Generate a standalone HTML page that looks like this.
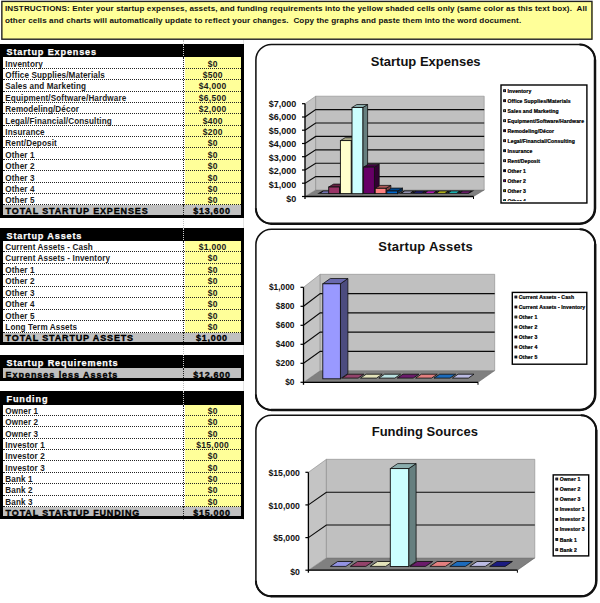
<!DOCTYPE html>
<html><head><meta charset="utf-8"><title>Startup Costs</title>
<style>
html,body{margin:0;padding:0;background:#fff;}
body{width:600px;height:603px;position:relative;overflow:hidden;font-family:"Liberation Sans",sans-serif;}
#ins{position:absolute;left:2px;top:1.5px;width:587.5px;height:36.5px;border:0;background:#ffff99;font-weight:bold;font-size:8.1px;line-height:12px;color:#111;padding:1px 0 0 3px;box-sizing:content-box;white-space:nowrap;letter-spacing:0.115px}
.hd{position:absolute;left:0;width:244px;background:#000;color:#fff;font-weight:bold;font-size:9.1px;}
.hd span{-webkit-text-stroke:0.25px #fff;position:absolute;left:6.5px;top:3.1px;line-height:10px;letter-spacing:0.85px;white-space:nowrap}
.bd{position:absolute;left:0;width:243.9px;border-left:3px solid #000;border-right:3px solid #000;box-sizing:border-box;background:#fff}
.bd .yl{position:absolute;left:181.5px;right:0;top:0;bottom:0;background:#ffff99}
.bd .cs{position:absolute;left:179.7px;top:0;bottom:0;border-left:1px dotted #222}
.rw{position:absolute;left:0;right:0;font-size:8.15px;font-weight:bold;color:#1a1a1a;}
.rw::after{content:"";position:absolute;left:0;right:0;bottom:0;border-bottom:1px dotted #222}
.rw .l{position:absolute;left:2.3px;top:1.3px;line-height:11px;letter-spacing:0.12px;white-space:nowrap}
.rw .v{position:absolute;left:181.5px;right:0;top:1.3px;text-align:center;line-height:11px;letter-spacing:0.3px;font-size:8.5px}
.tot{position:absolute;left:0;border-left:3px solid #000;border-right:3px solid #000;border-bottom:3px solid #000;box-sizing:content-box;width:237.9px;background:#c0c0c0;font-weight:bold;font-size:9px;color:#000}
.tot .l{position:absolute;left:2.6px;top:0.9px;-webkit-text-stroke:0.35px #000;line-height:11px;letter-spacing:0.85px;white-space:nowrap}
.tot .l.lc{letter-spacing:0.95px}
.tot .v{position:absolute;left:180px;right:0;top:0.9px;-webkit-text-stroke:0.3px #000;text-align:center;line-height:11px;letter-spacing:0.7px}
.hd::before{content:"";position:absolute;left:182.7px;top:0;bottom:0;border-left:1px dotted #ccc}
.tot::before{content:"";position:absolute;left:179.7px;top:0;bottom:0;border-left:1px dotted #222}
.fg{position:absolute;width:0;border-left:1px dotted #bdbdbd}
.fg2{position:absolute;width:0;border-left:1px solid #e4e4e4}
svg{position:absolute;left:0;top:0}
.ax{font:bold 8.4px "Liberation Sans",sans-serif;text-anchor:end;fill:#111}
.tt{font:bold 13px "Liberation Sans",sans-serif;text-anchor:middle;fill:#111}
.lg{font:bold 5.1px "Liberation Sans",sans-serif;fill:#000;letter-spacing:0.1px;stroke:#000;stroke-width:0.22px}
</style></head><body>
<div class="fg" style="left:182.7px;top:40px;height:480px"></div>
<div class="fg2" style="left:243px;top:40px;height:480px"></div>
<div id="ins">INSTRUCTIONS: Enter your startup expenses, assets, and funding requirements into the yellow shaded cells only (same color as this text box).&nbsp; All<br>other cells and charts will automatically update to reflect your changes.&nbsp; Copy the graphs and paste them into the word document.</div>
<div class="hd" style="top:43.8px;height:14.6px"><span>Startup Expenses</span></div>
<div class="bd" style="top:57.40px;height:148.07px">
<div class="yl"></div>
<div class="rw" style="top:0.00px;height:11.39px"><span class="l">Inventory</span><span class="v">$0</span></div>
<div class="rw" style="top:11.39px;height:11.39px"><span class="l">Office Supplies/Materials</span><span class="v">$500</span></div>
<div class="rw" style="top:22.78px;height:11.39px"><span class="l">Sales and Marketing</span><span class="v">$4,000</span></div>
<div class="rw" style="top:34.17px;height:11.39px"><span class="l">Equipment/Software/Hardware</span><span class="v">$6,500</span></div>
<div class="rw" style="top:45.56px;height:11.39px"><span class="l">Remodeling/D&#233;cor</span><span class="v">$2,000</span></div>
<div class="rw" style="top:56.95px;height:11.39px"><span class="l">Legal/Financial/Consulting</span><span class="v">$400</span></div>
<div class="rw" style="top:68.34px;height:11.39px"><span class="l">Insurance</span><span class="v">$200</span></div>
<div class="rw" style="top:79.73px;height:11.39px"><span class="l">Rent/Deposit</span><span class="v">$0</span></div>
<div class="rw" style="top:91.12px;height:11.39px"><span class="l">Other 1</span><span class="v">$0</span></div>
<div class="rw" style="top:102.51px;height:11.39px"><span class="l">Other 2</span><span class="v">$0</span></div>
<div class="rw" style="top:113.90px;height:11.39px"><span class="l">Other 3</span><span class="v">$0</span></div>
<div class="rw" style="top:125.29px;height:11.39px"><span class="l">Other 4</span><span class="v">$0</span></div>
<div class="rw" style="top:136.68px;height:11.39px"><span class="l">Other 5</span><span class="v">$0</span></div>
<div class="cs"></div>
</div>
<div class="tot" style="top:205.47px;height:9.30px"><span class="l" style="top:0.9px">TOTAL STARTUP EXPENSES</span><span class="v" style="top:0.9px">$13,600</span></div>
<div class="hd" style="top:227.5px;height:14.2px"><span>Startup Assets</span></div>
<div class="bd" style="top:240.70px;height:92.00px">
<div class="yl"></div>
<div class="rw" style="top:0.00px;height:11.50px"><span class="l">Current Assets - Cash</span><span class="v">$1,000</span></div>
<div class="rw" style="top:11.50px;height:11.50px"><span class="l">Current Assets - Inventory</span><span class="v">$0</span></div>
<div class="rw" style="top:23.00px;height:11.50px"><span class="l">Other 1</span><span class="v">$0</span></div>
<div class="rw" style="top:34.50px;height:11.50px"><span class="l">Other 2</span><span class="v">$0</span></div>
<div class="rw" style="top:46.00px;height:11.50px"><span class="l">Other 3</span><span class="v">$0</span></div>
<div class="rw" style="top:57.50px;height:11.50px"><span class="l">Other 4</span><span class="v">$0</span></div>
<div class="rw" style="top:69.00px;height:11.50px"><span class="l">Other 5</span><span class="v">$0</span></div>
<div class="rw" style="top:80.50px;height:11.50px"><span class="l">Long Term Assets</span><span class="v">$0</span></div>
<div class="cs"></div>
</div>
<div class="tot" style="top:332.70px;height:9.50px"><span class="l" style="top:-0.1px">TOTAL STARTUP ASSETS</span><span class="v" style="top:-0.1px">$1,000</span></div>
<div class="hd" style="top:354.7px;height:13px"><span>Startup Requirements</span></div>
<div class="tot" style="top:367.5px;height:10.8px"><span class="l lc" style="top:2.3px">Expenses less Assets</span><span class="v" style="top:2.3px">$12,600</span></div>
<div class="hd" style="top:391.3px;height:14.2px"><span>Funding</span></div>
<div class="bd" style="top:404.50px;height:102.42px">
<div class="yl"></div>
<div class="rw" style="top:0.00px;height:11.38px"><span class="l">Owner 1</span><span class="v">$0</span></div>
<div class="rw" style="top:11.38px;height:11.38px"><span class="l">Owner 2</span><span class="v">$0</span></div>
<div class="rw" style="top:22.76px;height:11.38px"><span class="l">Owner 3</span><span class="v">$0</span></div>
<div class="rw" style="top:34.14px;height:11.38px"><span class="l">Investor 1</span><span class="v">$15,000</span></div>
<div class="rw" style="top:45.52px;height:11.38px"><span class="l">Investor 2</span><span class="v">$0</span></div>
<div class="rw" style="top:56.90px;height:11.38px"><span class="l">Investor 3</span><span class="v">$0</span></div>
<div class="rw" style="top:68.28px;height:11.38px"><span class="l">Bank 1</span><span class="v">$0</span></div>
<div class="rw" style="top:79.66px;height:11.38px"><span class="l">Bank 2</span><span class="v">$0</span></div>
<div class="rw" style="top:91.04px;height:11.38px"><span class="l">Bank 3</span><span class="v">$0</span></div>
<div class="cs"></div>
</div>
<div class="tot" style="top:506.92px;height:9.30px"><span class="l" style="top:0.9px">TOTAL STARTUP FUNDING</span><span class="v" style="top:0.9px">$15,000</span></div>
<svg width="600" height="603" viewBox="0 0 600 603">
<rect x="1.85" y="1.4" width="590.1" height="37.8" fill="none" stroke="#222" stroke-width="1.4"/>
<path d="M271.4,44.4 H579.5 A15.5,15.5 0 0 1 595.0,59.9 V208.2 A15.5,15.5 0 0 1 579.5,223.7 H271.4 A15.5,15.5 0 0 1 255.9,208.2 V59.9 A15.5,15.5 0 0 1 271.4,44.4 Z" fill="#fff" stroke="#111" stroke-width="1.55"/>
<path d="M595.0,59.9 V208.2 A15.5,15.5 0 0 1 579.5,223.7 H271.4" fill="none" stroke="#111" stroke-width="2.5" stroke-linecap="round"/>
<path d="M579.5,44.4 A15.5,15.5 0 0 1 595.0,59.9" fill="none" stroke="#111" stroke-width="2.0"/>
<path d="M271.4,223.7 A15.5,15.5 0 0 1 255.9,208.2" fill="none" stroke="#111" stroke-width="2.0"/>
<text x="425.7" y="65.7" class="tt">Startup Expenses</text>
<polygon points="305.0,196.5 473.5,196.5 484.2,190.0 315.7,190.0" fill="#808080" stroke="#555" stroke-width="0.5"/>
<polygon points="305.0,196.5 315.7,190.0 315.7,96.2 305.0,103.7" fill="#c4c4c4" stroke="#888" stroke-width="0.6"/>
<polygon points="315.7,190.0 484.2,190.0 484.2,96.2 315.7,96.2" fill="#c0c0c0" stroke="#888" stroke-width="0.6"/>
<polyline points="305.0,183.2 315.7,176.6 484.2,176.6" fill="none" stroke="#0a0a0a" stroke-width="1.15"/>
<polyline points="305.0,170.0 315.7,163.2 484.2,163.2" fill="none" stroke="#0a0a0a" stroke-width="1.15"/>
<polyline points="305.0,156.7 315.7,149.8 484.2,149.8" fill="none" stroke="#0a0a0a" stroke-width="1.15"/>
<polyline points="305.0,143.5 315.7,136.4 484.2,136.4" fill="none" stroke="#0a0a0a" stroke-width="1.15"/>
<polyline points="305.0,130.2 315.7,123.0 484.2,123.0" fill="none" stroke="#0a0a0a" stroke-width="1.15"/>
<polyline points="305.0,117.0 315.7,109.6 484.2,109.6" fill="none" stroke="#0a0a0a" stroke-width="1.15"/>
<polygon points="319.2,193.3 329.0,193.3 332.9,191.0 323.1,191.0" fill="#9393e3" stroke="#111" stroke-width="1.10"/>
<polygon points="339.6,193.6 344.4,190.7 344.4,184.1 339.6,187.0" fill="#4c1933" stroke="#111" stroke-width="0.8"/>
<polygon points="328.7,187.0 339.6,187.0 344.4,184.1 333.6,184.1" fill="#682245" stroke="#111" stroke-width="0.8"/>
<rect x="328.7" y="187.0" width="10.8" height="6.6" fill="#993366" stroke="#111" stroke-width="0.9"/>
<polygon points="351.2,193.6 356.0,190.7 356.0,137.7 351.2,140.6" fill="#7f7f66" stroke="#111" stroke-width="0.8"/>
<polygon points="340.4,140.6 351.2,140.6 356.0,137.7 345.2,137.7" fill="#adad8a" stroke="#111" stroke-width="0.8"/>
<rect x="340.4" y="140.6" width="10.8" height="53.0" fill="#FFFFCC" stroke="#111" stroke-width="0.9"/>
<polygon points="362.8,193.6 367.6,190.7 367.6,104.5 362.8,107.5" fill="#667f7f" stroke="#111" stroke-width="0.8"/>
<polygon points="352.0,107.5 362.8,107.5 367.6,104.5 356.8,104.5" fill="#8aadad" stroke="#111" stroke-width="0.8"/>
<rect x="352.0" y="107.5" width="10.8" height="86.2" fill="#CCFFFF" stroke="#111" stroke-width="0.9"/>
<polygon points="374.4,193.6 379.2,190.7 379.2,164.2 374.4,167.1" fill="#330033" stroke="#111" stroke-width="0.8"/>
<polygon points="363.6,167.1 374.4,167.1 379.2,164.2 368.4,164.2" fill="#450045" stroke="#111" stroke-width="0.8"/>
<rect x="363.6" y="167.1" width="10.8" height="26.5" fill="#660066" stroke="#111" stroke-width="0.9"/>
<polygon points="386.0,193.6 390.9,190.7 390.9,185.4 386.0,188.3" fill="#7f4040" stroke="#111" stroke-width="0.8"/>
<polygon points="375.2,188.3 386.0,188.3 390.9,185.4 380.0,185.4" fill="#ad5757" stroke="#111" stroke-width="0.8"/>
<rect x="375.2" y="188.3" width="10.8" height="5.3" fill="#FF8080" stroke="#111" stroke-width="0.9"/>
<polygon points="397.7,193.6 402.5,190.7 402.5,188.1 397.7,191.0" fill="#003366" stroke="#111" stroke-width="0.8"/>
<polygon points="386.8,191.0 397.7,191.0 402.5,188.1 391.7,188.1" fill="#00458a" stroke="#111" stroke-width="0.8"/>
<rect x="386.8" y="191.0" width="10.8" height="2.7" fill="#0066CC" stroke="#111" stroke-width="0.9"/>
<polygon points="400.5,193.3 410.4,193.3 414.2,191.0 404.4,191.0" fill="#bbbbe3" stroke="#111" stroke-width="1.10"/>
<polygon points="412.2,193.3 422.0,193.3 425.8,191.0 416.0,191.0" fill="#1c1c80" stroke="#111" stroke-width="1.10"/>
<polygon points="423.8,193.3 433.6,193.3 437.5,191.0 427.6,191.0" fill="#e31ce3" stroke="#111" stroke-width="1.10"/>
<polygon points="435.4,193.3 445.2,193.3 449.1,191.0 439.3,191.0" fill="#e3e31c" stroke="#111" stroke-width="1.10"/>
<polygon points="447.0,193.3 456.9,193.3 460.7,191.0 450.9,191.0" fill="#1ce3e3" stroke="#111" stroke-width="1.10"/>
<polygon points="458.7,193.3 468.5,193.3 472.3,191.0 462.5,191.0" fill="#801c80" stroke="#111" stroke-width="1.10"/>
<line x1="305.0" y1="103.7" x2="305.0" y2="199.0" stroke="#000" stroke-width="1.3"/>
<line x1="305.0" y1="196.5" x2="473.5" y2="196.5" stroke="#000" stroke-width="1.3"/>
<line x1="473.5" y1="196.5" x2="473.5" y2="199.0" stroke="#000" stroke-width="1"/>
<line x1="302.0" y1="196.5" x2="305.0" y2="196.5" stroke="#000" stroke-width="1.2"/>
<text x="296.3" y="201.6" class="ax" style="font-size:9.0px">$0</text>
<line x1="302.0" y1="183.2" x2="305.0" y2="183.2" stroke="#000" stroke-width="1.2"/>
<text x="296.3" y="187.6" class="ax" style="font-size:9.0px">$1,000</text>
<line x1="302.0" y1="170.0" x2="305.0" y2="170.0" stroke="#000" stroke-width="1.2"/>
<text x="296.3" y="174.1" class="ax" style="font-size:9.0px">$2,000</text>
<line x1="302.0" y1="156.7" x2="305.0" y2="156.7" stroke="#000" stroke-width="1.2"/>
<text x="296.3" y="160.7" class="ax" style="font-size:9.0px">$3,000</text>
<line x1="302.0" y1="143.5" x2="305.0" y2="143.5" stroke="#000" stroke-width="1.2"/>
<text x="296.3" y="147.3" class="ax" style="font-size:9.0px">$4,000</text>
<line x1="302.0" y1="130.2" x2="305.0" y2="130.2" stroke="#000" stroke-width="1.2"/>
<text x="296.3" y="133.9" class="ax" style="font-size:9.0px">$5,000</text>
<line x1="302.0" y1="117.0" x2="305.0" y2="117.0" stroke="#000" stroke-width="1.2"/>
<text x="296.3" y="120.4" class="ax" style="font-size:9.0px">$6,000</text>
<line x1="302.0" y1="103.7" x2="305.0" y2="103.7" stroke="#000" stroke-width="1.2"/>
<text x="296.3" y="107.0" class="ax" style="font-size:9.0px">$7,000</text>
<clipPath id="lc85"><rect x="501.0" y="85.0" width="85.4" height="116.0"/></clipPath>
<rect x="501.0" y="85.0" width="85.9" height="118.0" fill="#fff" stroke="#000" stroke-width="1.4"/>
<g clip-path="url(#lc85)">
<rect x="503.6" y="89.7" width="2" height="2" fill="#4c4c7f" stroke="#000" stroke-width="0.8"/>
<text x="507.5" y="92.6" class="lg">Inventory</text>
<rect x="503.6" y="99.7" width="2" height="2" fill="#4c1933" stroke="#000" stroke-width="0.8"/>
<text x="507.5" y="102.6" class="lg">Office Supplies/Materials</text>
<rect x="503.6" y="109.7" width="2" height="2" fill="#7f7f66" stroke="#000" stroke-width="0.8"/>
<text x="507.5" y="112.6" class="lg">Sales and Marketing</text>
<rect x="503.6" y="119.7" width="2" height="2" fill="#667f7f" stroke="#000" stroke-width="0.8"/>
<text x="507.5" y="122.6" class="lg">Equipment/Software/Hardware</text>
<rect x="503.6" y="129.7" width="2" height="2" fill="#330033" stroke="#000" stroke-width="0.8"/>
<text x="507.5" y="132.6" class="lg">Remodeling/D&#233;cor</text>
<rect x="503.6" y="139.7" width="2" height="2" fill="#7f4040" stroke="#000" stroke-width="0.8"/>
<text x="507.5" y="142.6" class="lg">Legal/Financial/Consulting</text>
<rect x="503.6" y="149.7" width="2" height="2" fill="#003366" stroke="#000" stroke-width="0.8"/>
<text x="507.5" y="152.6" class="lg">Insurance</text>
<rect x="503.6" y="159.7" width="2" height="2" fill="#66667f" stroke="#000" stroke-width="0.8"/>
<text x="507.5" y="162.6" class="lg">Rent/Deposit</text>
<rect x="503.6" y="169.7" width="2" height="2" fill="#000040" stroke="#000" stroke-width="0.8"/>
<text x="507.5" y="172.6" class="lg">Other 1</text>
<rect x="503.6" y="179.7" width="2" height="2" fill="#7f007f" stroke="#000" stroke-width="0.8"/>
<text x="507.5" y="182.6" class="lg">Other 2</text>
<rect x="503.6" y="189.7" width="2" height="2" fill="#7f7f00" stroke="#000" stroke-width="0.8"/>
<text x="507.5" y="192.6" class="lg">Other 3</text>
<rect x="503.6" y="199.7" width="2" height="2" fill="#007f7f" stroke="#000" stroke-width="0.8"/>
<text x="507.5" y="202.6" class="lg">Other 4</text>
</g>
<path d="M271.4,229.3 H579.7 A15.5,15.5 0 0 1 595.2,244.8 V394.4 A15.5,15.5 0 0 1 579.7,409.9 H271.4 A15.5,15.5 0 0 1 255.9,394.4 V244.8 A15.5,15.5 0 0 1 271.4,229.3 Z" fill="#fff" stroke="#111" stroke-width="1.55"/>
<path d="M595.2,244.8 V394.4 A15.5,15.5 0 0 1 579.7,409.9 H271.4" fill="none" stroke="#111" stroke-width="2.5" stroke-linecap="round"/>
<path d="M579.7,229.3 A15.5,15.5 0 0 1 595.2,244.8" fill="none" stroke="#111" stroke-width="2.0"/>
<path d="M271.4,409.9 A15.5,15.5 0 0 1 255.9,394.4" fill="none" stroke="#111" stroke-width="2.0"/>
<text x="425.7" y="250.5" class="tt" style="letter-spacing:0.25px">Startup Assets</text>
<polygon points="303.5,382.3 478.0,382.3 494.7,370.6 320.2,370.6" fill="#808080" stroke="#555" stroke-width="0.5"/>
<polygon points="303.5,382.3 320.2,370.6 320.2,274.3 303.5,287.3" fill="#c4c4c4" stroke="#888" stroke-width="0.6"/>
<polygon points="320.2,370.6 494.7,370.6 494.7,274.3 320.2,274.3" fill="#c0c0c0" stroke="#888" stroke-width="0.6"/>
<polyline points="303.5,363.3 320.2,351.3 494.7,351.3" fill="none" stroke="#0a0a0a" stroke-width="1.15"/>
<polyline points="303.5,344.3 320.2,332.1 494.7,332.1" fill="none" stroke="#0a0a0a" stroke-width="1.15"/>
<polyline points="303.5,325.3 320.2,312.8 494.7,312.8" fill="none" stroke="#0a0a0a" stroke-width="1.15"/>
<polyline points="303.5,306.3 320.2,293.6 494.7,293.6" fill="none" stroke="#0a0a0a" stroke-width="1.15"/>
<polygon points="340.4,378.8 347.9,373.5 347.9,278.5 340.4,283.8" fill="#4c4c7f" stroke="#111" stroke-width="0.8"/>
<polygon points="322.8,283.8 340.4,283.8 347.9,278.5 330.3,278.5" fill="#6868ad" stroke="#111" stroke-width="0.8"/>
<rect x="322.8" y="283.8" width="17.6" height="95.0" fill="#9999FF" stroke="#111" stroke-width="0.9"/>
<polygon points="342.2,378.1 358.1,378.1 363.8,374.2 347.9,374.2" fill="#93436b" stroke="#111" stroke-width="0.85"/>
<polygon points="360.5,378.1 376.5,378.1 382.2,374.2 366.2,374.2" fill="#e3e3bb" stroke="#111" stroke-width="0.85"/>
<polygon points="378.9,378.1 394.9,378.1 400.6,374.2 384.6,374.2" fill="#bbe3e3" stroke="#111" stroke-width="0.85"/>
<polygon points="397.3,378.1 413.2,378.1 418.9,374.2 403.0,374.2" fill="#6b1c6b" stroke="#111" stroke-width="0.85"/>
<polygon points="415.6,378.1 431.6,378.1 437.3,374.2 421.3,374.2" fill="#e38080" stroke="#111" stroke-width="0.85"/>
<polygon points="434.0,378.1 450.0,378.1 455.7,374.2 439.7,374.2" fill="#1c6bbb" stroke="#111" stroke-width="0.85"/>
<polygon points="452.4,378.1 468.4,378.1 474.0,374.2 458.1,374.2" fill="#bbbbe3" stroke="#111" stroke-width="0.85"/>
<line x1="303.5" y1="287.3" x2="303.5" y2="384.8" stroke="#000" stroke-width="1.3"/>
<line x1="303.5" y1="382.3" x2="478.0" y2="382.3" stroke="#000" stroke-width="1.3"/>
<line x1="478.0" y1="382.3" x2="478.0" y2="384.8" stroke="#000" stroke-width="1"/>
<line x1="300.5" y1="382.3" x2="303.5" y2="382.3" stroke="#000" stroke-width="1.2"/>
<text x="294.5" y="385.2" class="ax" style="font-size:8.4px">$0</text>
<line x1="300.5" y1="363.3" x2="303.5" y2="363.3" stroke="#000" stroke-width="1.2"/>
<text x="294.5" y="366.2" class="ax" style="font-size:8.4px">$200</text>
<line x1="300.5" y1="344.3" x2="303.5" y2="344.3" stroke="#000" stroke-width="1.2"/>
<text x="294.5" y="347.2" class="ax" style="font-size:8.4px">$400</text>
<line x1="300.5" y1="325.3" x2="303.5" y2="325.3" stroke="#000" stroke-width="1.2"/>
<text x="294.5" y="328.2" class="ax" style="font-size:8.4px">$600</text>
<line x1="300.5" y1="306.3" x2="303.5" y2="306.3" stroke="#000" stroke-width="1.2"/>
<text x="294.5" y="309.2" class="ax" style="font-size:8.4px">$800</text>
<line x1="300.5" y1="287.3" x2="303.5" y2="287.3" stroke="#000" stroke-width="1.2"/>
<text x="294.5" y="290.2" class="ax" style="font-size:8.4px">$1,000</text>
<clipPath id="lc292"><rect x="512.3" y="292.4" width="74.0" height="69.8"/></clipPath>
<rect x="512.3" y="292.4" width="74.5" height="71.8" fill="#fff" stroke="#000" stroke-width="1.4"/>
<g clip-path="url(#lc292)">
<rect x="514.9" y="296.0" width="2" height="2" fill="#4c4c7f" stroke="#000" stroke-width="0.8"/>
<text x="518.8" y="298.9" class="lg">Current Assets - Cash</text>
<rect x="514.9" y="306.0" width="2" height="2" fill="#4c1933" stroke="#000" stroke-width="0.8"/>
<text x="518.8" y="308.9" class="lg">Current Assets - Inventory</text>
<rect x="514.9" y="316.0" width="2" height="2" fill="#7f7f66" stroke="#000" stroke-width="0.8"/>
<text x="518.8" y="318.9" class="lg">Other 1</text>
<rect x="514.9" y="326.0" width="2" height="2" fill="#667f7f" stroke="#000" stroke-width="0.8"/>
<text x="518.8" y="328.9" class="lg">Other 2</text>
<rect x="514.9" y="336.0" width="2" height="2" fill="#330033" stroke="#000" stroke-width="0.8"/>
<text x="518.8" y="338.9" class="lg">Other 3</text>
<rect x="514.9" y="346.0" width="2" height="2" fill="#7f4040" stroke="#000" stroke-width="0.8"/>
<text x="518.8" y="348.9" class="lg">Other 4</text>
<rect x="514.9" y="356.0" width="2" height="2" fill="#003366" stroke="#000" stroke-width="0.8"/>
<text x="518.8" y="358.9" class="lg">Other 5</text>
</g>
<path d="M271.4,415.3 H580.8 A15.5,15.5 0 0 1 596.3,430.8 V580.8 A15.5,15.5 0 0 1 580.8,596.3 H271.4 A15.5,15.5 0 0 1 255.9,580.8 V430.8 A15.5,15.5 0 0 1 271.4,415.3 Z" fill="#fff" stroke="#111" stroke-width="1.55"/>
<path d="M596.3,430.8 V580.8 A15.5,15.5 0 0 1 580.8,596.3 H271.4" fill="none" stroke="#111" stroke-width="2.5" stroke-linecap="round"/>
<path d="M580.8,415.3 A15.5,15.5 0 0 1 596.3,430.8" fill="none" stroke="#111" stroke-width="2.0"/>
<path d="M271.4,596.3 A15.5,15.5 0 0 1 255.9,580.8" fill="none" stroke="#111" stroke-width="2.0"/>
<text x="424.8" y="436" class="tt">Funding Sources</text>
<polygon points="308.4,570.2 517.4,570.2 534.8,557.9 326.4,557.9" fill="#808080" stroke="#555" stroke-width="0.5"/>
<polygon points="308.4,570.2 326.4,557.9 326.4,459.3 308.4,472.3" fill="#c4c4c4" stroke="#888" stroke-width="0.6"/>
<polygon points="326.4,557.9 534.8,557.9 534.8,459.3 326.4,459.3" fill="#c0c0c0" stroke="#888" stroke-width="0.6"/>
<polyline points="308.4,537.6 326.4,525.0 534.8,525.0" fill="none" stroke="#0a0a0a" stroke-width="1.15"/>
<polyline points="308.4,504.9 326.4,492.2 534.8,492.2" fill="none" stroke="#0a0a0a" stroke-width="1.15"/>
<polygon points="330.4,566.4 345.9,566.4 353.1,561.5 337.6,561.5" fill="#9393e3" stroke="#111" stroke-width="0.85"/>
<polygon points="350.3,566.4 365.8,566.4 373.0,561.5 357.5,561.5" fill="#93436b" stroke="#111" stroke-width="0.85"/>
<polygon points="370.2,566.4 385.7,566.4 392.9,561.5 377.4,561.5" fill="#e3e3bb" stroke="#111" stroke-width="0.85"/>
<polygon points="408.7,566.5 416.1,561.5 416.1,463.6 408.7,468.6" fill="#667f7f" stroke="#111" stroke-width="0.8"/>
<polygon points="390.3,468.6 408.7,468.6 416.1,463.6 397.7,463.6" fill="#8aadad" stroke="#111" stroke-width="0.8"/>
<rect x="390.3" y="468.6" width="18.4" height="97.9" fill="#CCFFFF" stroke="#111" stroke-width="0.9"/>
<polygon points="410.0,566.4 425.5,566.4 432.7,561.5 417.2,561.5" fill="#6b1c6b" stroke="#111" stroke-width="0.85"/>
<polygon points="429.9,566.4 445.4,566.4 452.6,561.5 437.1,561.5" fill="#e38080" stroke="#111" stroke-width="0.85"/>
<polygon points="449.8,566.4 465.4,566.4 472.6,561.5 457.0,561.5" fill="#1c6bbb" stroke="#111" stroke-width="0.85"/>
<polygon points="469.8,566.4 485.3,566.4 492.5,561.5 477.0,561.5" fill="#bbbbe3" stroke="#111" stroke-width="0.85"/>
<polygon points="489.7,566.4 505.2,566.4 512.4,561.5 496.9,561.5" fill="#1c1c80" stroke="#111" stroke-width="0.85"/>
<line x1="308.4" y1="472.3" x2="308.4" y2="572.7" stroke="#000" stroke-width="1.3"/>
<line x1="308.4" y1="570.2" x2="517.4" y2="570.2" stroke="#000" stroke-width="1.3"/>
<line x1="517.4" y1="570.2" x2="517.4" y2="572.7" stroke="#000" stroke-width="1"/>
<line x1="305.4" y1="570.2" x2="308.4" y2="570.2" stroke="#000" stroke-width="1.2"/>
<text x="299.8" y="575.2" class="ax" style="font-size:8.7px">$0</text>
<line x1="305.4" y1="537.6" x2="308.4" y2="537.6" stroke="#000" stroke-width="1.2"/>
<text x="299.8" y="541.3" class="ax" style="font-size:8.7px">$5,000</text>
<line x1="305.4" y1="504.9" x2="308.4" y2="504.9" stroke="#000" stroke-width="1.2"/>
<text x="299.8" y="508.5" class="ax" style="font-size:8.7px">$10,000</text>
<line x1="305.4" y1="472.3" x2="308.4" y2="472.3" stroke="#000" stroke-width="1.2"/>
<text x="299.8" y="475.6" class="ax" style="font-size:8.7px">$15,000</text>
<clipPath id="lc474"><rect x="553.2" y="474.9" width="35.0" height="79.0"/></clipPath>
<rect x="553.2" y="474.9" width="35.5" height="81.0" fill="#fff" stroke="#000" stroke-width="1.4"/>
<g clip-path="url(#lc474)">
<rect x="555.8" y="478.0" width="2" height="2" fill="#4c4c7f" stroke="#000" stroke-width="0.8"/>
<text x="559.7" y="480.9" class="lg">Owner 1</text>
<rect x="555.8" y="488.1" width="2" height="2" fill="#4c1933" stroke="#000" stroke-width="0.8"/>
<text x="559.7" y="491.0" class="lg">Owner 2</text>
<rect x="555.8" y="498.2" width="2" height="2" fill="#7f7f66" stroke="#000" stroke-width="0.8"/>
<text x="559.7" y="501.1" class="lg">Owner 3</text>
<rect x="555.8" y="508.3" width="2" height="2" fill="#667f7f" stroke="#000" stroke-width="0.8"/>
<text x="559.7" y="511.2" class="lg">Investor 1</text>
<rect x="555.8" y="518.4" width="2" height="2" fill="#330033" stroke="#000" stroke-width="0.8"/>
<text x="559.7" y="521.3" class="lg">Investor 2</text>
<rect x="555.8" y="528.5" width="2" height="2" fill="#7f4040" stroke="#000" stroke-width="0.8"/>
<text x="559.7" y="531.4" class="lg">Investor 3</text>
<rect x="555.8" y="538.6" width="2" height="2" fill="#003366" stroke="#000" stroke-width="0.8"/>
<text x="559.7" y="541.5" class="lg">Bank 1</text>
<rect x="555.8" y="548.7" width="2" height="2" fill="#66667f" stroke="#000" stroke-width="0.8"/>
<text x="559.7" y="551.6" class="lg">Bank 2</text>
</g>
</svg>
</body></html>
